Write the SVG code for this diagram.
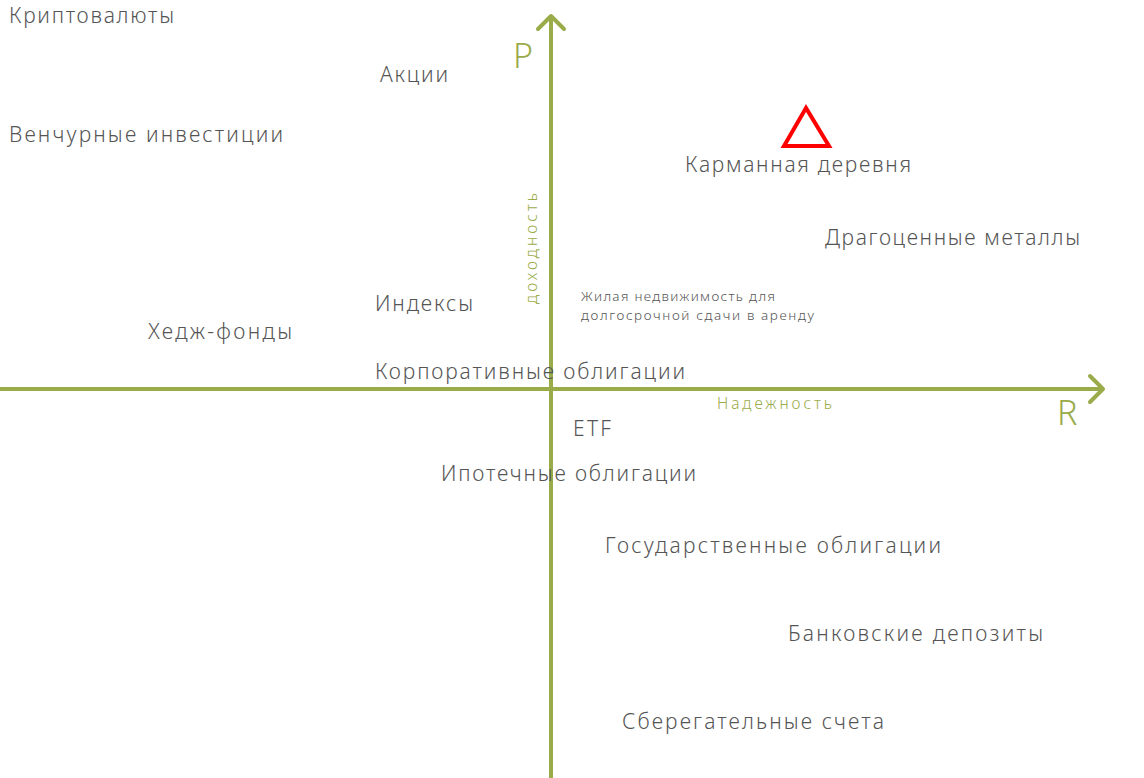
<svg xmlns="http://www.w3.org/2000/svg" width="1144" height="778" viewBox="0 0 1144 778">
<style>
.t{font-family:"Noto Sans","Open Sans",sans-serif;font-size:21px;font-weight:300;fill:#555}
.s{font-family:"Noto Sans","Open Sans",sans-serif;font-size:13.5px;font-weight:300;fill:#555}
.g{font-family:"Noto Sans","Open Sans",sans-serif;font-size:15.5px;font-weight:300;fill:#9aab4a}
.axl{font-family:"Noto Sans","Open Sans",sans-serif;font-size:34px;font-weight:300;fill:#9aab4a}
.ax{stroke:#9aab4a;stroke-width:4;fill:none;stroke-linecap:round;stroke-linejoin:round}
</style>
<rect width="1144" height="778" fill="#fff"/>
<g id="axes">
<line class="ax" x1="551" y1="778" x2="551" y2="17" style="stroke-linecap:butt"/>
<polyline class="ax" points="538,29 551,16 564,29"/>
<line class="ax" x1="0" y1="389" x2="1102" y2="389" style="stroke-linecap:butt"/>
<polyline class="ax" points="1090,376 1103,389 1090,402"/>
<text class="axl" x="513" y="68">P</text>
<text class="axl" x="1057" y="425">R</text>
<text class="g" transform="translate(537,304) rotate(-90)" textLength="111" lengthAdjust="spacing">доходность</text>
<text class="g" x="717" y="409" textLength="115" lengthAdjust="spacing">Надежность</text>
</g>
<g id="marker"><polygon points="806,108 784,146 829,146" fill="none" stroke="#f00" stroke-width="4"/></g>
<g id="n1"><text class="t" x="9" y="23" textLength="165" lengthAdjust="spacing">Криптовалюты</text></g>
<g id="n2"><text class="t" x="380" y="82" textLength="68" lengthAdjust="spacing">Акции</text></g>
<g id="n3"><text class="t" x="9" y="142" textLength="274" lengthAdjust="spacing">Венчурные инвестиции</text></g>
<g id="n4"><text class="t" x="685" y="172" textLength="226" lengthAdjust="spacing">Карманная деревня</text></g>
<g id="n5"><text class="t" x="825" y="245" textLength="255" lengthAdjust="spacing">Драгоценные металлы</text></g>
<g id="n6"><text class="t" x="375" y="311" textLength="98" lengthAdjust="spacing">Индексы</text></g>
<g id="n7"><text class="t" x="148" y="339" textLength="144" lengthAdjust="spacing">Хедж-фонды</text></g>
<g id="n8"><text class="t" x="375" y="379" textLength="310" lengthAdjust="spacing">Корпоративные облигации</text></g>
<g id="n9"><text class="t" x="573" y="436" textLength="38" lengthAdjust="spacing">ETF</text></g>
<g id="n10"><text class="t" x="441" y="481" textLength="255" lengthAdjust="spacing">Ипотечные облигации</text></g>
<g id="n11"><text class="t" x="605" y="553" textLength="336" lengthAdjust="spacing">Государственные облигации</text></g>
<g id="n12"><text class="t" x="788" y="641" textLength="255" lengthAdjust="spacing">Банковские депозиты</text></g>
<g id="n13"><text class="t" x="622" y="729" textLength="262" lengthAdjust="spacing">Сберегательные счета</text></g>
<g id="n14"><text class="s" x="581" y="301" textLength="194" lengthAdjust="spacing">Жилая недвижимость для</text><text class="s" x="581" y="320" textLength="233" lengthAdjust="spacing">долгосрочной сдачи в аренду</text></g>
</svg>
